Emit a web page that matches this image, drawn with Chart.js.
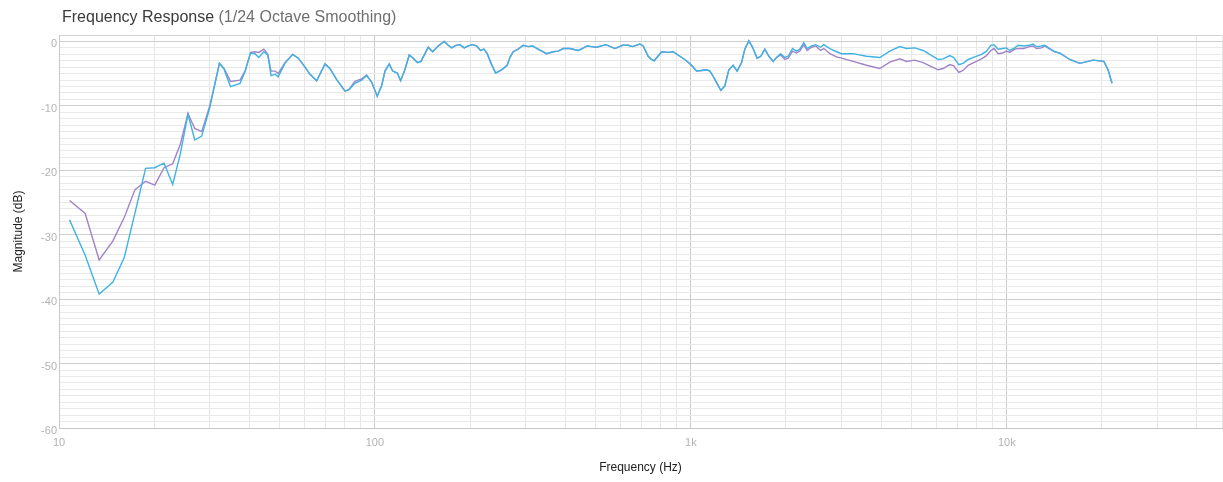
<!DOCTYPE html>
<html>
<head>
<meta charset="utf-8">
<title>Frequency Response</title>
<script src="https://cdn.jsdelivr.net/npm/chart.js@4/dist/chart.umd.min.js"></script>
<style>
  html, body { margin: 0; padding: 0; background: #ffffff; }
  #wrap { width: 1223px; height: 482px; position: relative; }
  canvas { display: block; }
</style>
</head>
<body>
<div id="wrap"><canvas id="fr" width="1223" height="482"></canvas></div>
<script>
// Measurement points (Hz) shared by both traces
const frequencyHz = [
  10.8, 12.1, 13.4, 14.8, 16.1, 17.4, 18.8, 20.1, 21.5, 22.9,
  24.2, 25.6, 26.9, 28.3, 30.0, 30.9, 32.2, 33.3, 34.9, 37.4,
  38.8, 40.4, 41.7, 42.9, 44.5, 45.8, 46.9, 48.3, 49.4, 51.9,
  54.9, 57.2, 59.7, 62.3, 65.4, 69.5, 72.0, 75.6, 80.4, 82.9,
  86.4, 90.8, 94.1, 97.6, 101.7, 105, 107.6, 111, 113.8, 117.7,
  120.6, 124.4, 128.4, 132.2, 136.5, 139.8, 144, 147.5, 152.3, 158.6,
  165.7, 170.6, 174.9, 180.4, 185.8, 191.7, 197.4, 203.8, 209.8, 216,
  221.3, 226.7, 234.1, 241, 251.7, 262.2, 267.4, 274, 284.1, 294.7,
  305.6, 315.5, 326.2, 349.4, 366.6, 380.3, 394.4, 414.1, 439.9, 452.9,
  469.7, 485.1, 503, 538.3, 574.8, 608, 633.3, 653.9, 689.7, 706.5,
  732.7, 751, 765.4, 807.9, 847.7, 879, 922.9, 957.2, 1005, 1042,
  1081, 1121, 1149, 1176, 1206, 1244, 1281, 1319, 1361, 1401,
  1447, 1482, 1526, 1568, 1621, 1665, 1715, 1766, 1822, 1867,
  1923, 1984, 2032, 2098, 2160, 2213, 2278, 2334, 2410, 2487,
  2573, 2636, 2754, 2892, 2999, 3262, 3598, 3963, 4263, 4586,
  4816, 5116, 5434, 5706, 6062, 6287, 6601, 6796, 7048, 7273,
  7543, 7920, 8318, 8627, 8902, 9118, 9387, 9692, 9979, 10220,
  10600, 10860, 11320, 11770, 12110, 12420, 12880, 13190, 13680, 14190,
  14720, 15830, 17020, 18760, 20280, 20920, 21540
];

// Blue trace (dB)
const blueDb = [
  -27.7, -33.2, -39.2, -37.4, -33.5, -26.6, -19.7, -19.6, -18.9, -22.2,
  -17.5, -11.3, -15.3, -14.7, -10.3, -7.4, -3.4, -4.3, -7.0, -6.5,
  -4.7, -1.8, -1.9, -2.5, -1.6, -2.1, -5.3, -5.1, -5.5, -3.4,
  -2.0, -2.6, -3.8, -5.1, -6.1, -3.5, -4.2, -5.9, -7.7, -7.5,
  -6.5, -6.0, -5.3, -6.3, -8.5, -6.9, -4.6, -3.5, -4.6, -4.9,
  -6.1, -4.4, -2.1, -2.6, -3.3, -3.1, -1.9, -0.9, -1.6, -0.7,
  0.0, -0.6, -1.0, -0.6, -0.5, -1.0, -0.7, -0.5, -0.7, -1.4,
  -1.2, -1.9, -3.6, -4.9, -4.4, -3.7, -2.5, -1.6, -1.2, -0.6,
  -0.8, -0.7, -1.1, -1.9, -1.6, -1.5, -1.1, -1.1, -1.4, -1.1,
  -0.7, -0.8, -0.9, -0.5, -1.1, -0.6, -0.6, -0.8, -0.4, -0.7,
  -2.3, -2.8, -3.0, -1.6, -1.7, -1.6, -2.3, -2.8, -3.7, -4.6,
  -4.5, -4.4, -4.6, -5.4, -6.4, -7.6, -6.9, -4.4, -3.7, -4.6,
  -3.3, -1.2, 0.1, -0.9, -2.6, -2.3, -1.2, -2.3, -3.1, -2.5,
  -1.9, -2.5, -2.3, -1.1, -1.5, -1.2, -0.2, -1.1, -0.7, -0.5,
  -0.9, -0.5, -1.1, -1.6, -1.9, -1.9, -2.3, -2.5, -1.5, -0.8,
  -1.1, -1.0, -1.4, -2.0, -2.8, -2.7, -2.2, -2.5, -3.6, -3.4,
  -2.8, -2.4, -2.0, -1.5, -0.6, -0.5, -1.2, -1.1, -1.0, -1.4,
  -1.0, -0.6, -0.7, -0.6, -0.4, -0.8, -0.7, -0.6, -1.1, -1.6,
  -1.8, -2.8, -3.4, -2.9, -3.1, -4.4, -6.5
];

// Purple trace (dB)
const purpleDb = [
  -24.7, -26.7, -33.9, -31.0, -27.3, -23.0, -21.7, -22.3, -19.6, -19.0,
  -16.0, -11.2, -13.5, -14.0, -10.0, -7.3, -3.4, -4.2, -6.2, -6.0,
  -4.6, -1.7, -1.6, -1.7, -1.2, -2.0, -4.6, -4.6, -5.0, -3.3,
  -2.0, -2.6, -3.8, -5.1, -6.1, -3.5, -4.2, -5.9, -7.7, -7.4,
  -6.2, -5.8, -5.2, -6.3, -8.5, -6.9, -4.6, -3.5, -4.6, -4.9,
  -6.1, -4.4, -2.1, -2.6, -3.3, -3.1, -1.9, -0.9, -1.6, -0.7,
  0.0, -0.6, -1.0, -0.6, -0.5, -1.0, -0.7, -0.5, -0.7, -1.4,
  -1.2, -1.9, -3.6, -4.9, -4.4, -3.7, -2.5, -1.6, -1.2, -0.6,
  -0.8, -0.7, -1.1, -1.9, -1.6, -1.5, -1.1, -1.1, -1.4, -1.1,
  -0.7, -0.8, -0.9, -0.5, -1.1, -0.6, -0.6, -0.8, -0.4, -0.7,
  -2.3, -2.8, -3.0, -1.6, -1.7, -1.6, -2.3, -2.8, -3.7, -4.6,
  -4.5, -4.4, -4.6, -5.4, -6.4, -7.6, -6.9, -4.4, -3.7, -4.6,
  -3.3, -1.2, 0.1, -0.9, -2.6, -2.3, -1.2, -2.3, -3.1, -2.5,
  -2.1, -2.8, -2.6, -1.5, -1.8, -1.5, -0.5, -1.4, -0.9, -0.7,
  -1.4, -1.1, -1.9, -2.4, -2.6, -3.1, -3.7, -4.2, -3.2, -2.7,
  -3.1, -2.9, -3.3, -3.8, -4.4, -4.2, -3.6, -3.8, -4.8, -4.5,
  -3.7, -3.2, -2.7, -2.2, -1.4, -1.1, -1.9, -1.8, -1.5, -1.7,
  -1.2, -1.1, -1.1, -0.8, -0.7, -1.1, -1.0, -0.7, -1.2, -1.6,
  -1.8, -2.8, -3.4, -2.9, -3.1, -4.4, -6.5
];

// Grid positions and labels
const xGridHz = [
  10, 20, 30, 40, 50, 60, 70, 80, 90,
  100, 200, 300, 400, 500, 600, 700, 800, 900,
  1000, 2000, 3000, 4000, 5000, 6000, 7000, 8000, 9000,
  10000, 20000, 30000, 40000, 48000
];
const xTickLabels = { 10: '10', 100: '100', 1000: '1k', 10000: '10k' };
const yTickLabels = [0, -10, -20, -30, -40, -50, -60];
const xRange = [10, 48000];
const yRange = [-60, 1];

const titleMain = 'Frequency Response';
const titleNote = '(1/24 Octave Smoothing)';

const yGridDb = [];
for (let v = yRange[1]; v >= yRange[0]; v--) yGridDb.push(v);

const FONT = '"Liberation Sans", Arial, Helvetica, sans-serif';

const twoToneTitle = {
  id: 'twoToneTitle',
  afterDraw(chart) {
    const ctx = chart.ctx;
    ctx.save();
    ctx.font = '16px ' + FONT;
    ctx.textAlign = 'left';
    ctx.textBaseline = 'alphabetic';
    ctx.fillStyle = '#3b3b3b';
    ctx.fillText(titleMain, 62, 22);
    const w = ctx.measureText(titleMain + ' ').width;
    ctx.fillStyle = '#6f6f6f';
    ctx.fillText(titleNote, 62 + w, 22);
    ctx.restore();
  }
};

const toPoints = (ys) => frequencyHz.map((f, i) => ({ x: f, y: ys[i] }));

new Chart(document.getElementById('fr'), {
  type: 'line',
  data: {
    datasets: [
      {
        label: 'Channel 2',
        data: toPoints(blueDb),
        borderColor: '#3fb3e4',
        borderWidth: 1.4,
        pointRadius: 0,
        tension: 0,
        fill: false
      },
      {
        label: 'Channel 1',
        data: toPoints(purpleDb),
        borderColor: '#a183c8',
        borderWidth: 1.4,
        pointRadius: 0,
        tension: 0,
        fill: false
      }
    ]
  },
  options: {
    responsive: false,
    animation: false,
    devicePixelRatio: 1,
    layout: { padding: { top: 35, right: 1, left: 0, bottom: 0 } },
    plugins: {
      legend: { display: false },
      tooltip: { enabled: false },
      title: { display: false }
    },
    scales: {
      x: {
        type: 'logarithmic',
        min: xRange[0],
        max: xRange[1],
        afterBuildTicks(scale) {
          scale.ticks = xGridHz.map(v => ({ value: v }));
        },
        afterFit(scale) {
          scale.height = 54;
          scale.paddingLeft = 0;
          scale.paddingRight = 0;
        },
        grid: {
          drawTicks: false,
          lineWidth: 1,
          color: (c) => {
            const v = c.tick ? c.tick.value : 0;
            return Number.isInteger(Math.log10(v)) ? '#cbcbcb' : '#e6e6e6';
          }
        },
        border: { color: '#c8c8c8' },
        ticks: {
          autoSkip: false,
          maxRotation: 0,
          padding: 8,
          color: '#b3b3b3',
          font: { family: FONT, size: 11 },
          callback: (v) => xTickLabels[v] ?? ''
        },
        title: {
          display: true,
          text: 'Frequency (Hz)',
          color: '#222222',
          font: { family: FONT, size: 12 },
          padding: { top: 0, bottom: 7 }
        }
      },
      y: {
        type: 'linear',
        min: yRange[0],
        max: yRange[1],
        afterBuildTicks(scale) {
          scale.ticks = yGridDb.map(v => ({ value: v }));
        },
        afterFit(scale) {
          scale.width = 59;
          scale.paddingTop = 0;
          scale.paddingBottom = 0;
        },
        grid: {
          drawTicks: false,
          lineWidth: 1,
          color: (c) => {
            const v = c.tick ? c.tick.value : 0;
            if (v === yRange[1]) return '#d2d2d2';
            return v % 10 === 0 ? '#cfcfcf' : '#e9e9e9';
          }
        },
        border: { color: '#c8c8c8' },
        ticks: {
          autoSkip: false,
          padding: 2,
          labelOffset: 3,
          color: '#b3b3b3',
          font: { family: FONT, size: 11 },
          callback: (v) => yTickLabels.includes(v) ? String(v) : ''
        },
        title: {
          display: true,
          text: 'Magnitude (dB)',
          color: '#222222',
          font: { family: FONT, size: 12 },
          padding: { top: 11, bottom: 0 }
        }
      }
    }
  },
  plugins: [twoToneTitle]
});
</script>
</body>
</html>
